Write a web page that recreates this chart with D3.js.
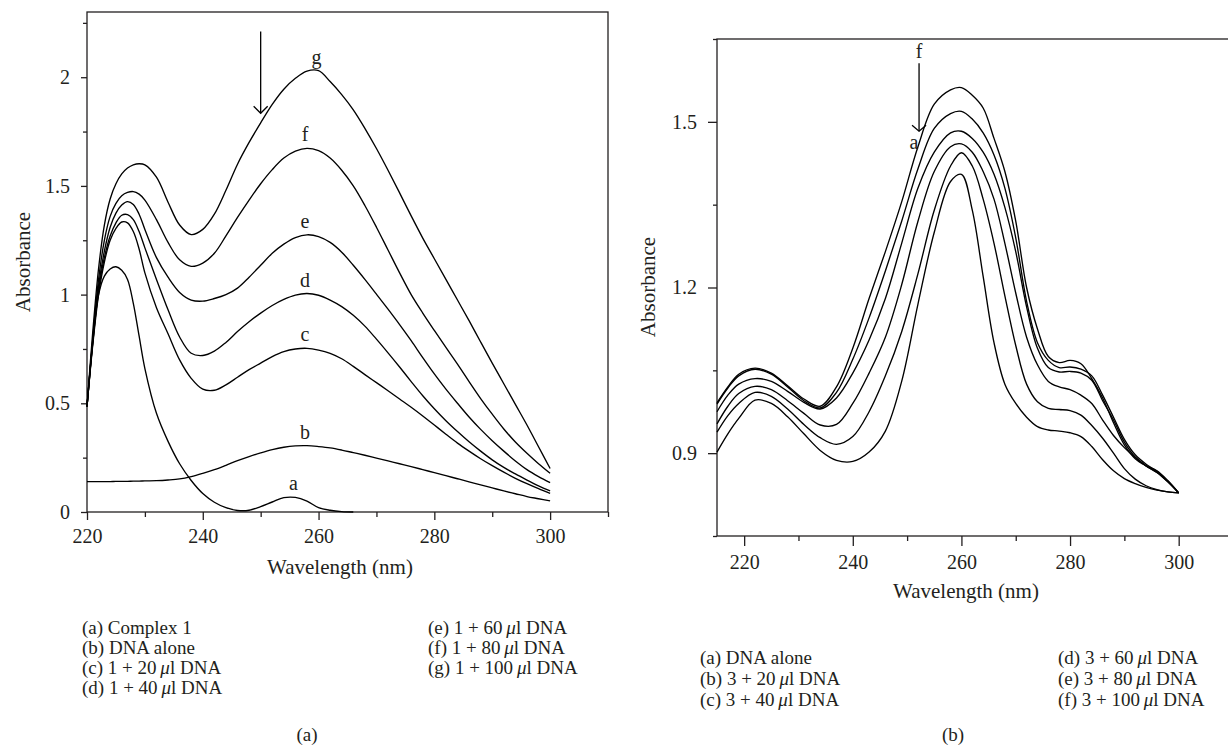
<!DOCTYPE html>
<html><head><meta charset="utf-8">
<script src="https://cdn.jsdelivr.net/npm/d3@7"></script>
<style>
body{margin:0;background:#fff}
svg text{font-family:"Liberation Serif","Tinos","Times New Roman","Nimbus Roman","DejaVu Serif",serif;fill:#231f20}
</style>
</head><body>
<svg id="c" width="1228" height="751"></svg>
<script>
const FONT = '"Liberation Serif","Tinos","Times New Roman","Nimbus Roman","DejaVu Serif",serif';
// ---------- Panel (a) data ----------
const leftWl = [220,221,222,223,224,225,226,227,228,229,230,232,234,236,238,240,242,244,246,248,250,252,254,256,258,260,262,264,266,268,270,272,274,276,278,280,282,284,286,288,290,292,294,296,298,300];
const leftA = [0.485,0.78,1.0,1.085,1.118,1.128,1.112,1.07,0.96,0.81,0.66,0.454,0.325,0.222,0.145,0.085,0.045,0.02,0.007,0.008,0.025,0.046,0.066,0.067,0.05,0.02,0.008,0.002,0,null,null,null,null,null,null,null,null,null,null,null,null,null,null,null,null,null];
const leftB = [0.14,0.14,0.14,0.14,0.14,0.141,0.141,0.141,0.142,0.142,0.143,0.144,0.147,0.152,0.163,0.178,0.195,0.215,0.236,0.255,0.272,0.287,0.298,0.304,0.305,0.301,0.295,0.285,0.273,0.261,0.248,0.235,0.222,0.209,0.195,0.181,0.167,0.153,0.139,0.125,0.111,0.097,0.084,0.071,0.061,0.051];
const leftC = [0.485,0.77,1.0,1.15,1.25,1.305,1.334,1.33,1.29,1.21,1.1,0.94,0.82,0.7,0.615,0.565,0.56,0.585,0.62,0.655,0.685,0.715,0.738,0.75,0.753,0.745,0.73,0.705,0.67,0.632,0.595,0.558,0.52,0.482,0.442,0.4,0.358,0.317,0.28,0.245,0.213,0.183,0.155,0.13,0.107,0.086];
const leftD = [0.485,0.78,1.02,1.17,1.27,1.33,1.365,1.368,1.345,1.29,1.215,1.07,0.93,0.805,0.73,0.72,0.74,0.78,0.83,0.875,0.915,0.95,0.978,0.998,1.005,0.997,0.975,0.945,0.905,0.855,0.795,0.732,0.667,0.6,0.535,0.475,0.42,0.37,0.323,0.28,0.24,0.205,0.175,0.147,0.12,0.097];
const leftE = [0.485,0.79,1.04,1.2,1.31,1.375,1.412,1.428,1.415,1.37,1.3,1.17,1.08,1.01,0.975,0.97,0.982,1.0,1.03,1.08,1.135,1.19,1.232,1.262,1.275,1.267,1.24,1.195,1.135,1.07,1.002,0.933,0.862,0.788,0.71,0.635,0.565,0.5,0.437,0.38,0.328,0.28,0.235,0.195,0.163,0.135];
const leftF = [0.485,0.8,1.07,1.25,1.36,1.42,1.455,1.47,1.474,1.462,1.435,1.345,1.24,1.16,1.13,1.145,1.19,1.27,1.355,1.435,1.51,1.575,1.628,1.66,1.673,1.662,1.628,1.572,1.5,1.41,1.31,1.205,1.1,1.0,0.915,0.835,0.757,0.68,0.6,0.522,0.45,0.382,0.322,0.27,0.222,0.178];
const leftG = [0.485,0.83,1.12,1.32,1.44,1.51,1.555,1.582,1.597,1.602,1.597,1.54,1.425,1.32,1.276,1.3,1.37,1.48,1.6,1.7,1.79,1.875,1.945,1.995,2.028,2.03,1.98,1.92,1.85,1.765,1.672,1.572,1.468,1.362,1.26,1.165,1.07,0.975,0.88,0.782,0.685,0.59,0.495,0.4,0.3,0.2];
const leftSeries = [leftA,leftB,leftC,leftD,leftE,leftF,leftG];
const leftLetters = ["a","b","c","d","e","f","g"];
const leftXTicks = [220,240,260,280,300];
const leftXMinor = [230,250,270,290,310];
const leftYTicks = [0,0.5,1,1.5,2];
const leftYMinor = [0.25,0.75,1.25,1.75,2.25];
const leftLegendCol1 = ["(a) Complex 1","(b) DNA alone","(c) 1 + 20 \u03bcl DNA","(d) 1 + 40 \u03bcl DNA"];
const leftLegendCol2 = ["(e) 1 + 60 \u03bcl DNA","(f) 1 + 80 \u03bcl DNA","(g) 1 + 100 \u03bcl DNA"];

// ---------- Panel (b) data ----------
const rightWl = [215,217,219,222,225,228,231,234,237,240,243,246,249,252,255,258,260,262,264,266,268,270,272,274,276,278,280,282,284,286,288,290,292,294,296,298,300];
const rightA = [0.902,0.935,0.963,0.996,0.99,0.966,0.935,0.905,0.887,0.885,0.902,0.94,1.03,1.17,1.3,1.392,1.405,1.34,1.22,1.1,1.025,0.99,0.965,0.948,0.942,0.94,0.937,0.93,0.912,0.888,0.868,0.854,0.845,0.838,0.833,0.83,0.828];
const rightB = [0.938,0.968,0.99,1.01,1.003,0.98,0.952,0.928,0.916,0.93,0.975,1.04,1.12,1.225,1.34,1.42,1.444,1.42,1.36,1.28,1.185,1.095,1.025,0.993,0.981,0.979,0.977,0.969,0.95,0.927,0.9,0.872,0.853,0.841,0.834,0.83,0.828];
const rightC = [0.953,0.985,1.008,1.021,1.015,0.995,0.972,0.951,0.952,0.99,1.045,1.11,1.205,1.32,1.41,1.455,1.46,1.445,1.41,1.36,1.28,1.19,1.11,1.06,1.03,1.02,1.015,1.005,0.99,0.96,0.932,0.91,0.892,0.877,0.865,0.848,0.828];
const rightD = [0.975,1.005,1.025,1.035,1.03,1.012,0.992,0.98,1.0,1.045,1.105,1.18,1.28,1.38,1.445,1.48,1.483,1.47,1.445,1.405,1.345,1.265,1.165,1.09,1.055,1.047,1.048,1.045,1.032,0.995,0.96,0.92,0.893,0.877,0.865,0.848,0.828];
const rightE = [0.989,1.018,1.04,1.052,1.043,1.02,0.995,0.982,1.01,1.07,1.145,1.23,1.32,1.415,1.488,1.515,1.519,1.505,1.48,1.44,1.38,1.29,1.175,1.1,1.068,1.055,1.056,1.052,1.04,1.005,0.965,0.925,0.897,0.88,0.867,0.85,0.828];
const rightF = [0.991,1.02,1.043,1.054,1.045,1.022,0.998,0.985,1.02,1.09,1.18,1.265,1.355,1.455,1.532,1.558,1.562,1.548,1.525,1.47,1.41,1.32,1.2,1.125,1.075,1.064,1.068,1.062,1.035,1.0,0.955,0.915,0.89,0.877,0.868,0.85,0.828];
const rightSeries = [rightA,rightB,rightC,rightD,rightE,rightF];
const rightXTicks = [220,240,260,280,300];
const rightXMinor = [230,250,270,290,310];
const rightYTicks = [0.9,1.2,1.5];
const rightYMinor = [0.75,1.05,1.35,1.65];
const rightLegendCol1 = ["(a) DNA alone","(b) 3 + 20 \u03bcl DNA","(c) 3 + 40 \u03bcl DNA"];
const rightLegendCol2 = ["(d) 3 + 60 \u03bcl DNA","(e) 3 + 80 \u03bcl DNA","(f) 3 + 100 \u03bcl DNA"];

const svg = d3.select("#c");
const INK = "#231f20";

function legendText(sel, str){
  const parts = str.split("\u03bc");
  if(parts.length===1){ sel.text(str); return; }
  const pre = parts[0].replace(/ $/,"");
  sel.append("tspan").text(pre + "\u2009");
  sel.append("tspan").attr("font-style","italic").text("\u03bc");
  sel.append("tspan").text(parts[1]);
}

function drawPanel(o){
  const g = svg.append("g");
  const x = d3.scaleLinear().domain(o.xDomain).range(o.xRange);
  const y = d3.scaleLinear().domain(o.yDomain).range(o.yRange);
  const fs = 20;
  g.append("rect").attr("x",x(o.xDomain[0])).attr("y",y(o.yDomain[1]))
    .attr("width",x(o.xDomain[1])-x(o.xDomain[0])).attr("height",y(o.yDomain[0])-y(o.yDomain[1]))
    .attr("fill","none").attr("stroke",INK).attr("stroke-width",1.3);
  const style = a => a.call(s=>s.attr("font-family",null))
    .call(s=>s.select(".domain").remove())
    .call(s=>s.selectAll("line").attr("stroke",INK).attr("stroke-width",1.3))
    .call(s=>s.selectAll("text").attr("font-size",fs).style("font-family",FONT).attr("fill",INK));
  const y0 = y(o.yDomain[0]), x0 = x(o.xDomain[0]);
  g.append("g").attr("transform",`translate(0,${y0})`)
    .call(d3.axisBottom(x).tickValues(o.xTicks).tickSize(o.xMaj).tickPadding(o.xPad).tickFormat(d=>String(d))).call(style);
  g.append("g").attr("transform",`translate(0,${y0})`)
    .call(d3.axisBottom(x).tickValues(o.xMinor).tickSize(o.xMin).tickFormat("")).call(style);
  g.append("g").attr("transform",`translate(${x0},0)`)
    .call(d3.axisLeft(y).tickValues(o.yTicks).tickSize(o.yMaj).tickPadding(o.yPad).tickFormat(d=>String(d))).call(style);
  g.append("g").attr("transform",`translate(${x0},0)`)
    .call(d3.axisLeft(y).tickValues(o.yMinor).tickSize(o.yMin).tickFormat("")).call(style);
  const line = d3.line().defined(d=>d[1]!==null).x(d=>x(d[0])).y(d=>y(d[1])).curve(d3.curveCatmullRom.alpha(0.5));
  o.series.forEach(s=>{
    g.append("path").datum(o.wl.map((w,i)=>[w,s[i]])).attr("d",line)
      .attr("fill","none").attr("stroke","#000").attr("stroke-width",1.35);
  });
  g.append("text").attr("x",o.xTitle[0]).attr("y",o.xTitle[1]).attr("text-anchor","middle")
    .attr("font-size",21).text("Wavelength (nm)");
  g.append("text").attr("transform",`translate(${o.yTitle[0]},${o.yTitle[1]}) rotate(-90)`)
    .attr("text-anchor","middle").attr("font-size",21).text("Absorbance");
  return {g,x,y};
}

// ---------- Panel (a) ----------
const L = drawPanel({
  xDomain:[220,310], xRange:[87,608], yDomain:[0,2.3], yRange:[512,12],
  xTicks:leftXTicks, xMinor:leftXMinor, yTicks:leftYTicks, yMinor:leftYMinor,
  xMaj:8, xMin:5, yMaj:6, yMin:4, xPad:9, yPad:11,
  wl:leftWl, series:leftSeries, xTitle:[340,574], yTitle:[30,262]
});
leftSeries.forEach((s,k)=>{
  let bi=-1, bv=-1;
  leftWl.forEach((w,i)=>{ if(w>=250 && w<=266 && s[i]!==null && s[i]>bv){bv=s[i];bi=i;} });
  L.g.append("text").attr("x",L.x(leftWl[bi])-2).attr("y",L.y(bv)-7)
    .attr("text-anchor","middle").attr("font-size",20).text(leftLetters[k]);
});
(function(){
  const ax=L.x(250), yt=L.y(2.21), yb=L.y(1.834);
  L.g.append("line").attr("x1",ax).attr("x2",ax).attr("y1",yt).attr("y2",yb).attr("stroke","#000").attr("stroke-width",1.3);
  L.g.append("path").attr("d",`M${ax-7},${yb-7}L${ax},${yb}L${ax+7},${yb-7}`).attr("fill","none").attr("stroke","#000").attr("stroke-width",1.3);
})();

// ---------- Panel (b) ----------
const R = drawPanel({
  xDomain:[215,310], xRange:[717,1233], yDomain:[0.75,1.65], yRange:[536,39],
  xTicks:rightXTicks, xMinor:rightXMinor, yTicks:rightYTicks, yMinor:rightYMinor,
  xMaj:10, xMin:5, yMaj:9, yMin:4, xPad:9, yPad:11,
  wl:rightWl, series:rightSeries, xTitle:[966,598], yTitle:[655,287]
});
(function(){
  const ax=R.x(252.2), yt=R.y(1.606), yb=R.y(1.483);
  R.g.append("line").attr("x1",ax).attr("x2",ax).attr("y1",yt).attr("y2",yb).attr("stroke","#000").attr("stroke-width",1.3);
  R.g.append("path").attr("d",`M${ax-7},${yb-6}L${ax},${yb}L${ax+7},${yb-6}`).attr("fill","none").attr("stroke","#000").attr("stroke-width",1.3);
  R.g.append("text").attr("x",ax).attr("y",yt-5).attr("text-anchor","middle").attr("font-size",20).text("f");
  R.g.append("text").attr("x",ax-5).attr("y",yb+18).attr("text-anchor","middle").attr("font-size",20).text("a");
})();

// ---------- Legends & captions ----------
function legend(list,x0,yStart,dy){
  list.forEach((t,i)=>{
    const tx = svg.append("text").attr("x",x0).attr("y",yStart+i*dy).attr("font-size",19);
    legendText(tx,t);
  });
}
legend(leftLegendCol1,82,634,20);
legend(leftLegendCol2,428,634,20);
legend(rightLegendCol1,700,664,21);
legend(rightLegendCol2,1058,664,21);
svg.append("text").attr("x",307).attr("y",741).attr("text-anchor","middle").attr("font-size",19).text("(a)");
svg.append("text").attr("x",953).attr("y",741).attr("text-anchor","middle").attr("font-size",19).text("(b)");
</script>
</body></html>
